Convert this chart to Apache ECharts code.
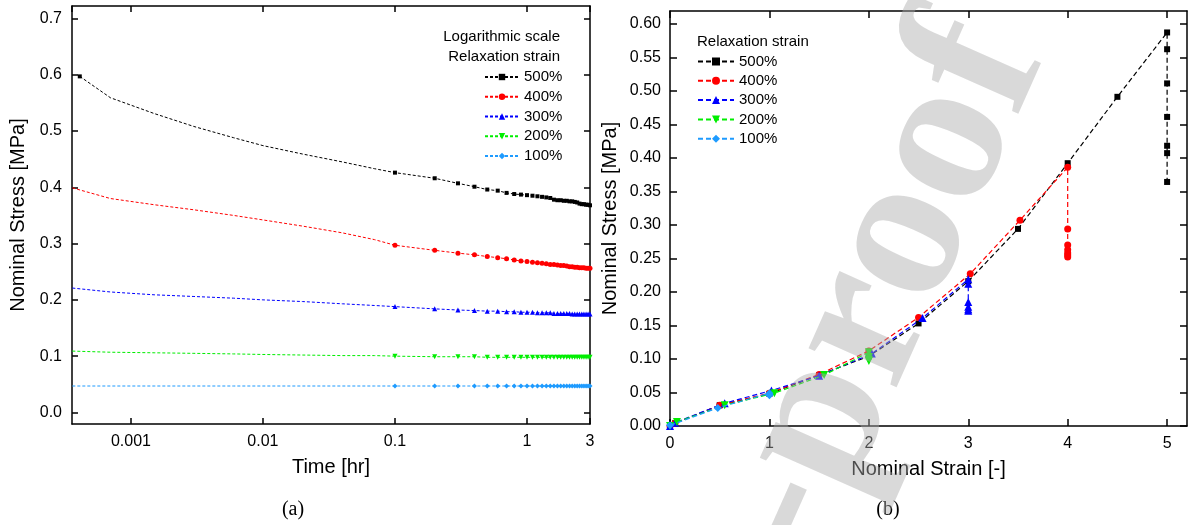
<!DOCTYPE html>
<html><head><meta charset="utf-8">
<script src="https://cdn.jsdelivr.net/npm/echarts@6/dist/echarts.min.js"></script>
<style>html,body{margin:0;padding:0;background:#fff}#c{width:1190px;height:525px}</style>
</head><body><div id="c"></div>
<script>
// ---------- shared ----------
const seriesNames = ['500%', '400%', '300%', '200%', '100%'];
const seriesColors = ['#000000', '#ff0000', '#0000ff', '#00ee00', '#1e9bff'];
const seriesSymbols = ['rect', 'circle', 'triangle', 'triangle', 'diamond'];
const seriesSymbolRotate = [0, 0, 0, 180, 0];

// ---------- (a) relaxation vs time (log) ----------
const timeEarly500 = [0.00041, 0.0007, 0.0015, 0.003, 0.006, 0.01, 0.02, 0.04, 0.07];
const timeEarly = [0.00036, 0.0007, 0.0015, 0.003, 0.006, 0.01, 0.02, 0.04, 0.07];
const timeSampled = [0.1, 0.2, 0.3, 0.4, 0.5, 0.6, 0.7, 0.8, 0.9, 1.0,
  1.1, 1.2, 1.3, 1.4, 1.5, 1.6, 1.7, 1.8, 1.9, 2.0,
  2.1, 2.2, 2.3, 2.4, 2.5, 2.6, 2.7, 2.8, 2.9, 3.0];

const early500 = [0.597, 0.559, 0.531, 0.508, 0.488, 0.474, 0.459, 0.445, 0.433];
const sampled500 = [0.426, 0.416, 0.407, 0.401, 0.396, 0.394, 0.390, 0.388, 0.387, 0.386,
  0.385, 0.384, 0.383, 0.382, 0.381, 0.378, 0.377, 0.377, 0.376, 0.376,
  0.375, 0.375, 0.374, 0.373, 0.371, 0.370, 0.370, 0.369, 0.369, 0.368];
const early400 = [0.399, 0.380, 0.369, 0.360, 0.350, 0.342, 0.331, 0.319, 0.307];
const sampled400 = [0.297, 0.288, 0.283, 0.280, 0.277, 0.275, 0.273, 0.271, 0.269, 0.268,
  0.267, 0.266, 0.265, 0.264, 0.263, 0.263, 0.262, 0.261, 0.261, 0.260,
  0.259, 0.259, 0.258, 0.258, 0.257, 0.257, 0.257, 0.256, 0.256, 0.256];
const early300 = [0.221, 0.214, 0.209, 0.206, 0.203, 0.200, 0.197, 0.193, 0.190];
const sampled300 = [0.188, 0.184, 0.182, 0.181, 0.180, 0.180, 0.179, 0.179, 0.178, 0.178,
  0.178, 0.177, 0.177, 0.177, 0.177, 0.176, 0.176, 0.176, 0.176, 0.176,
  0.176, 0.175, 0.175, 0.175, 0.175, 0.175, 0.175, 0.175, 0.175, 0.175];
const early200 = [0.109, 0.107, 0.106, 0.105, 0.104, 0.103, 0.102, 0.101, 0.101];
const sampled200 = [0.100, 0.099, 0.099, 0.099, 0.098, 0.098, 0.098, 0.098, 0.098, 0.098,
  0.098, 0.098, 0.098, 0.098, 0.098, 0.098, 0.098, 0.098, 0.098, 0.098,
  0.098, 0.098, 0.098, 0.098, 0.098, 0.098, 0.098, 0.098, 0.098, 0.098];
const early100 = [0.047, 0.047, 0.047, 0.047, 0.047, 0.047, 0.047, 0.047, 0.047];
const sampled100 = [0.047, 0.047, 0.047, 0.047, 0.047, 0.047, 0.047, 0.047, 0.047, 0.047,
  0.047, 0.047, 0.047, 0.047, 0.047, 0.047, 0.047, 0.047, 0.047, 0.047,
  0.047, 0.047, 0.047, 0.047, 0.047, 0.047, 0.047, 0.047, 0.047, 0.047];

const stressTicksA = [0, 0.1, 0.2, 0.3, 0.4, 0.5, 0.6, 0.7];

// ---------- (b) stress vs strain ----------
const strain500 = [0, 0.05, 0.5, 1.0, 1.5, 2.0, 2.5, 3.0, 3.5, 4.0, 4.5, 5.0, 5.0, 5.0, 5.0, 5.0, 5.0, 5.0];
const stress500 = [0.000, 0.004, 0.031, 0.048, 0.076, 0.104, 0.153, 0.216, 0.294, 0.392, 0.491, 0.587, 0.562, 0.511, 0.461, 0.418, 0.407, 0.364];
const strain400 = [0, 0.05, 0.5, 1.0, 1.5, 2.0, 2.5, 3.02, 3.52, 4.0, 4.0, 4.0, 4.0, 4.0, 4.0, 4.0];
const stress400 = [0.000, 0.004, 0.031, 0.049, 0.077, 0.112, 0.162, 0.227, 0.307, 0.386, 0.294, 0.270, 0.263, 0.258, 0.255, 0.252];
const strain300 = [0, 0.05, 0.55, 1.02, 1.5, 2.03, 2.54, 3.0, 3.0, 3.0, 3.0, 3.0, 3.0];
const stress300 = [0.000, 0.005, 0.034, 0.053, 0.075, 0.108, 0.161, 0.219, 0.212, 0.185, 0.178, 0.174, 0.172];
const strain200 = [0, 0.07, 0.55, 1.05, 1.55, 2.0, 2.0, 2.0, 2.0];
const stress200 = [0.000, 0.006, 0.031, 0.049, 0.076, 0.110, 0.103, 0.099, 0.097];
const strain100 = [0, 0.48, 1.0, 1.0, 1.0];
const stress100 = [0.001, 0.027, 0.049, 0.047, 0.046];

const strainTicks = [0, 1, 2, 3, 4, 5];
const stressTicksB = [0, 0.05, 0.10, 0.15, 0.20, 0.25, 0.30, 0.35, 0.40, 0.45, 0.50, 0.55, 0.60];

// ---------- build ----------
const earlyTimes = [timeEarly500, timeEarly, timeEarly, timeEarly, timeEarly];
const earlyVals = [early500, early400, early300, early200, early100];
const sampledVals = [sampled500, sampled400, sampled300, sampled200, sampled100];
const strainsB = [strain500, strain400, strain300, strain200, strain100];
const stressesB = [stress500, stress400, stress300, stress200, stress100];

const FONT = 'Liberation Sans, Arial, sans-serif';
const axisLineStyle = { color: '#000', width: 1.5 };

const series = [];
seriesNames.forEach((nm, i) => {
  const data = [];
  earlyTimes[i].forEach((t, j) => {
    data.push({ value: [t, earlyVals[i][j]], symbolSize: (i === 0 && j === 0) ? 4 : 0 });
  });
  timeSampled.forEach((t, j) => data.push([t, sampledVals[i][j]]));
  series.push({
    name: nm + ' ', type: 'line', xAxisIndex: 0, yAxisIndex: 0,
    data, symbol: seriesSymbols[i], symbolRotate: seriesSymbolRotate[i],
    symbolSize: i === 0 ? 4 : 5, showAllSymbol: true, animation: false,
    lineStyle: { color: seriesColors[i], width: 1, type: [3, 2] },
    itemStyle: { color: seriesColors[i] }, z: 2 + i
  });
});
seriesNames.forEach((nm, i) => {
  series.push({
    name: nm, type: 'line', xAxisIndex: 2, yAxisIndex: 2,
    data: strainsB[i].map((s, j) => [s, stressesB[i][j]]),
    symbol: seriesSymbols[i], symbolRotate: seriesSymbolRotate[i],
    symbolSize: [6, 7, 8, 8, 8][i], showAllSymbol: true, animation: false,
    lineStyle: { color: seriesColors[i], width: 1.2, type: [5, 3] },
    itemStyle: { color: seriesColors[i] }, z: 2 + i
  });
});

const chart = echarts.init(document.getElementById('c'), null, { renderer: 'canvas' });
chart.setOption({
  backgroundColor: '#fff',
  animation: false,
  textStyle: { fontFamily: FONT },
  grid: [
    { left: 72, top: 6, right: 600, bottom: 101 },
    { left: 670, top: 11, right: 3, bottom: 99 }
  ],
  xAxis: [
    { gridIndex: 0, type: 'log', logBase: 10, min: 0.000358, max: 3,
      name: 'Time [hr]', nameLocation: 'middle', nameGap: 33,
      nameTextStyle: { fontSize: 20, color: '#000', fontFamily: FONT },
      axisLine: { onZero: false, lineStyle: axisLineStyle },
      axisTick: { inside: true, length: 6, lineStyle: axisLineStyle },
      minorTick: { show: false }, splitLine: { show: false },
      axisLabel: { fontSize: 16, color: '#000', margin: 10, showMinLabel: false,
        formatter: v => (v >= 0.999 ? String(Math.round(v)) : String(+v.toPrecision(1))) } },
    { gridIndex: 0, type: 'log', logBase: 10, min: 0.000358, max: 3, position: 'top',
      axisLine: { onZero: false, lineStyle: axisLineStyle },
      axisTick: { inside: true, length: 6, lineStyle: axisLineStyle },
      axisLabel: { show: false }, splitLine: { show: false } },
    { gridIndex: 1, type: 'value', min: 0, max: 5.2,
      name: 'Nominal Strain [-]', nameLocation: 'middle', nameGap: 33,
      nameTextStyle: { fontSize: 20, color: '#000', fontFamily: FONT },
      axisLine: { onZero: false, lineStyle: axisLineStyle },
      axisTick: { inside: true, length: 7, lineStyle: axisLineStyle, customValues: strainTicks },
      axisLabel: { fontSize: 16, color: '#000', margin: 10, customValues: strainTicks,
        formatter: v => String(v) },
      splitLine: { show: false } },
    { gridIndex: 1, type: 'value', min: 0, max: 5.2, position: 'top',
      axisLine: { onZero: false, lineStyle: axisLineStyle },
      axisTick: { inside: true, length: 7, lineStyle: axisLineStyle, customValues: strainTicks },
      axisLabel: { show: false, customValues: strainTicks }, splitLine: { show: false } }
  ],
  yAxis: [
    { gridIndex: 0, type: 'value', min: -0.0205, max: 0.722,
      name: 'Nominal Stress [MPa]', nameLocation: 'middle', nameGap: 44,
      nameTextStyle: { fontSize: 20, color: '#000', fontFamily: FONT },
      axisLine: { onZero: false, lineStyle: axisLineStyle },
      axisTick: { inside: true, length: 6, lineStyle: axisLineStyle, customValues: stressTicksA },
      axisLabel: { fontSize: 16, color: '#000', margin: 10, customValues: stressTicksA,
        formatter: v => v.toFixed(1) },
      splitLine: { show: false } },
    { gridIndex: 0, type: 'value', min: -0.0205, max: 0.722, position: 'right',
      axisLine: { onZero: false, lineStyle: axisLineStyle },
      axisTick: { inside: true, length: 6, lineStyle: axisLineStyle, customValues: stressTicksA },
      axisLabel: { show: false, customValues: stressTicksA }, splitLine: { show: false } },
    { gridIndex: 1, type: 'value', min: 0, max: 0.619,
      name: 'Nominal Stress [MPa]', nameLocation: 'middle', nameGap: 50,
      nameTextStyle: { fontSize: 20, color: '#000', fontFamily: FONT },
      axisLine: { onZero: false, lineStyle: axisLineStyle },
      axisTick: { inside: true, length: 7, lineStyle: axisLineStyle, customValues: stressTicksB },
      axisLabel: { fontSize: 16, color: '#000', margin: 9, customValues: stressTicksB,
        formatter: v => v.toFixed(2) },
      splitLine: { show: false } },
    { gridIndex: 1, type: 'value', min: 0, max: 0.619, position: 'right',
      axisLine: { onZero: false, lineStyle: axisLineStyle },
      axisTick: { inside: true, length: 7, lineStyle: axisLineStyle, customValues: stressTicksB },
      axisLabel: { show: false, customValues: stressTicksB }, splitLine: { show: false } }
  ],
  legend: [
    { data: seriesNames.map(n => n + ' '), orient: 'vertical', left: 484, top: 69,
      itemWidth: 34, itemHeight: 8, itemGap: 3.75, padding: 0,
      textStyle: { fontSize: 15, color: '#000', fontFamily: FONT, lineHeight: 16 },
      formatter: n => n.trim(), selectedMode: false },
    { data: seriesNames, orient: 'vertical', left: 697, top: 53.5,
      itemWidth: 36, itemHeight: 10, itemGap: 3.3, padding: 0,
      textStyle: { fontSize: 15, color: '#000', fontFamily: FONT, lineHeight: 16 },
      selectedMode: false }
  ],
  graphic: [
    { type: 'text', x: 560, y: 37, silent: true,
      style: { text: 'Logarithmic scale', font: '15px ' + FONT, fill: '#000', align: 'right', verticalAlign: 'middle' } },
    { type: 'text', x: 560, y: 57, silent: true,
      style: { text: 'Relaxation strain', font: '15px ' + FONT, fill: '#000', align: 'right', verticalAlign: 'middle' } },
    { type: 'text', x: 697, y: 42, silent: true,
      style: { text: 'Relaxation strain', font: '15px ' + FONT, fill: '#000', align: 'left', verticalAlign: 'middle' } },
    { type: 'text', x: 293, y: 510, silent: true,
      style: { text: '(a)', font: '20px "Liberation Serif", "Times New Roman", serif', fill: '#000', align: 'center', verticalAlign: 'middle' } },
    { type: 'text', x: 888, y: 510, silent: true,
      style: { text: '(b)', font: '20px "Liberation Serif", "Times New Roman", serif', fill: '#000', align: 'center', verticalAlign: 'middle' } },
    { type: 'text', x: 995, y: 33, rotation: 66 * Math.PI / 180, silent: true, z: 100,
      style: { text: 'Journal Pre-proof', font: 'bold 210px "Liberation Serif", "Times New Roman", serif',
        fill: 'rgba(170,170,170,0.45)', align: 'right', verticalAlign: 'middle' } }
  ],
  series
});
</script></body></html>
